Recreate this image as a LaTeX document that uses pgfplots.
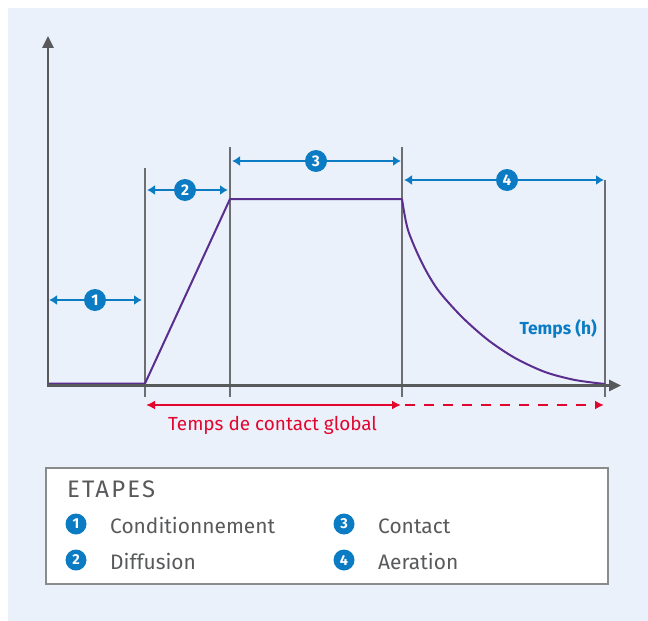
\documentclass[border=0pt]{standalone}
\usepackage{pgfplots}
\pgfplotsset{compat=1.18}
\usepackage{fontspec}
\setmainfont{Fira Sans}
\usetikzlibrary{arrows.meta}

\definecolor{bgblue}{HTML}{EAF1FB}
\definecolor{stepblue}{HTML}{0B7BC4}
\definecolor{curve}{HTML}{5A2D8E}
\definecolor{axgray}{HTML}{58595B}
\definecolor{vgray}{HTML}{6D6E71}
\definecolor{redc}{HTML}{E2062F}
\definecolor{boxgray}{HTML}{8A8B8D}

% decay (aeration) curve (pixel coordinates)
\pgfplotstableread{
x y
402 199
408 230
422 263
438 290
462 317
488 340
515 358
545 372
575 380
605 384
}\decay

\begin{document}
\begin{tikzpicture}[
  num/.style={circle, fill=stepblue, text=white, inner sep=0pt,
    minimum size=22bp, font=\fontsize{15.5}{15.5}\selectfont\bfseries},
  lnum/.style={circle, fill=stepblue, text=white, inner sep=0pt,
    minimum size=21bp, font=\fontsize{14.5}{14.5}\selectfont\bfseries},
  stepar/.style={stepblue, line width=2bp, {Latex[length=8bp,width=10bp]}-{Latex[length=8bp,width=10bp]}},
  leg/.style={anchor=base west, inner sep=0pt, text=axgray, font=\fontsize{21}{21}\selectfont},
]
\begin{axis}[
    width=648bp, height=621bp, scale only axis,
    xmin=0, xmax=648, ymin=0, ymax=621, y dir=reverse,
    hide axis, clip=false,
]
% background
\fill[white] (axis cs:0,0) rectangle (axis cs:648,621);
\fill[bgblue] (axis cs:8,8) rectangle (axis cs:648,621);

% vertical phase limits
\draw[vgray, line width=1.2bp] (axis cs:145,168) -- (axis cs:145,397);
\draw[vgray, line width=1.2bp] (axis cs:230,147) -- (axis cs:230,397);
\draw[vgray, line width=1.2bp] (axis cs:402,147) -- (axis cs:402,397);
\draw[vgray, line width=1.2bp] (axis cs:605,180) -- (axis cs:605,397);

% curve
\addplot[curve, line width=2bp, line join=round] coordinates {
  (48,383.5) (145,383.5) (230,199) (402,199)
};
\addplot[curve, line width=2bp, smooth, tension=0.5] table {\decay};

% axes
\draw[axgray, line width=2.6bp, -{Triangle[length=12bp,width=11bp]}]
  (axis cs:48,386) -- (axis cs:48,36);
\draw[axgray, line width=2.6bp, -{Triangle[length=12bp,width=11bp]}]
  (axis cs:47,385.5) -- (axis cs:621,385.5);

% step arrows
\draw[stepar] (axis cs:49,300) -- (axis cs:142,300);
\node[num] at (axis cs:95,300) {1};
\draw[stepar] (axis cs:147,190) -- (axis cs:228,190);
\node[num] at (axis cs:185,190) {2};
\draw[stepar] (axis cs:232,161) -- (axis cs:401,161);
\node[num] at (axis cs:316,161) {3};
\draw[stepar] (axis cs:404,180) -- (axis cs:604,180);
\node[num] at (axis cs:507,180) {4};

% contact time
\draw[redc, line width=2bp, {Latex[length=9bp,width=9bp]}-{Latex[length=9bp,width=9bp]}]
  (axis cs:146,405) -- (axis cs:401,405);
\draw[redc, line width=2bp, dash pattern=on 10bp off 9bp, -{Latex[length=9bp,width=9bp]}]
  (axis cs:405,405) -- (axis cs:604,405);
\node[anchor=base west, inner sep=0pt, text=redc, font=\fontsize{19}{19}\selectfont]
  at (axis cs:168,430) {Temps de contact global};
\node[anchor=base east, inner sep=0pt, text=stepblue, font=\fontsize{17.5}{17.5}\selectfont\bfseries]
  at (axis cs:597,334) {Temps (h)};

% legend box
\draw[boxgray, fill=white, line width=1.3bp] (axis cs:46,468) rectangle (axis cs:608,584);
\node[leg, font=\fontsize{24}{24}\selectfont\addfontfeatures{LetterSpace=9}] at (axis cs:67,497) {ETAPES};
\node[lnum] at (axis cs:76,524) {1};
\node[leg] at (axis cs:110,533) {Conditionnement};
\node[lnum] at (axis cs:76,560) {2};
\node[leg] at (axis cs:110,569) {Diffusion};
\node[lnum] at (axis cs:344,524) {3};
\node[leg] at (axis cs:378,533) {Contact};
\node[lnum] at (axis cs:344,560) {4};
\node[leg] at (axis cs:378,569) {Aeration};
\end{axis}
\end{tikzpicture}
\end{document}
